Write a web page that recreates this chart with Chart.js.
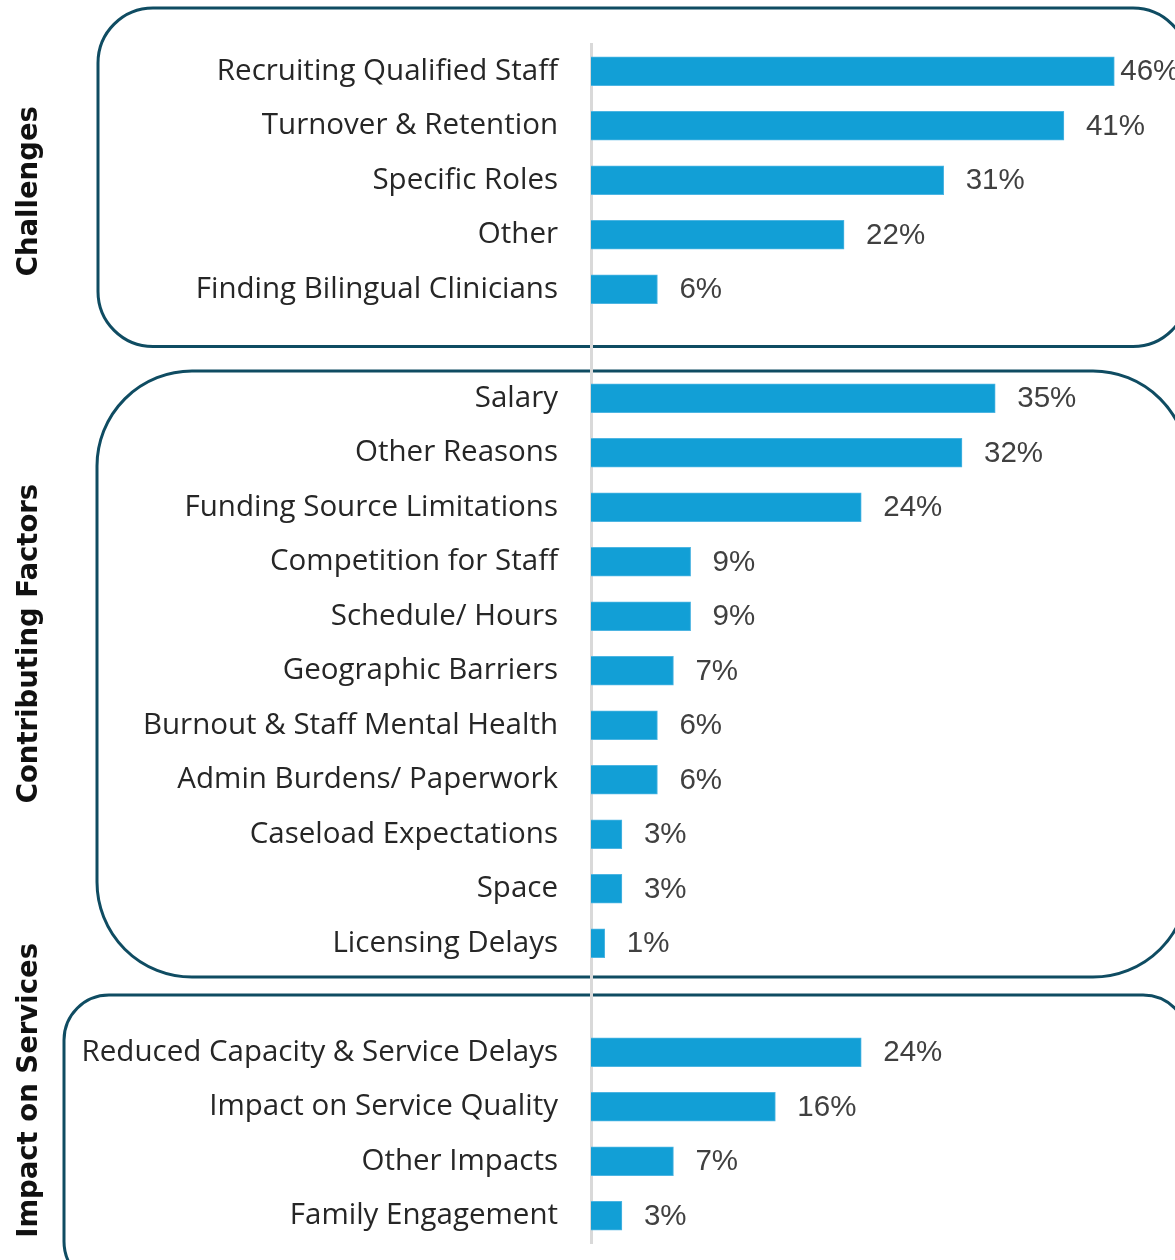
<!DOCTYPE html>
<html>
<head>
<meta charset="utf-8">
<script src="https://cdn.jsdelivr.net/npm/chart.js@4.4.1/dist/chart.umd.min.js"></script>
<style>
  html, body { margin: 0; padding: 0; background: #fff; }
  #wrap { width: 1175px; height: 1260px; position: relative; }
</style>
</head>
<body>
<div id="wrap"><canvas id="staff-chart"></canvas></div>
<script>
// === Data ===
// blank strings are the spacer rows between the three groups
const categories = [
  'Recruiting Qualified Staff', 'Turnover & Retention', 'Specific Roles', 'Other', 'Finding Bilingual Clinicians',
  '',
  'Salary', 'Other Reasons', 'Funding Source Limitations', 'Competition for Staff', 'Schedule/ Hours',
  'Geographic Barriers', 'Burnout & Staff Mental Health', 'Admin Burdens/ Paperwork', 'Caseload Expectations',
  'Space', 'Licensing Delays',
  '',
  'Reduced Capacity & Service Delays', 'Impact on Service Quality', 'Other Impacts', 'Family Engagement'
];

const challengeValues = [45.7, 41.3, 30.8, 22.1, 5.8];
const factorValues = [35.3, 32.4, 23.6, 8.7, 8.7, 7.2, 5.8, 5.8, 2.7, 2.7, 1.2];
const impactValues = [23.6, 16.1, 7.2, 2.7];

const groupTitles = ['Challenges', 'Contributing Factors', 'Impact on Services'];

const values = [...challengeValues, null, ...factorValues, null, ...impactValues];

// === Rounded group boxes + rotated group titles ===
const groupPlugin = {
  id: 'groups',
  beforeDraw(chart) {
    const { ctx } = chart;
    const y = chart.scales.y;
    const rowH = y.getPixelForValue(1) - y.getPixelForValue(0);

    const boxes = [
      { x: 98, top: y.getPixelForValue(0) - rowH * 1.16, bottom: y.getPixelForValue(4) + rowH * 1.05, r: 55 },
      { x: 97, top: y.getPixelForValue(6) - rowH * 0.5, bottom: y.getPixelForValue(16) + rowH * 0.62, r: 95 },
      { x: 64, top: y.getPixelForValue(18) - rowH * 1.05, bottom: y.getPixelForValue(21) + rowH * 1.3, r: 45 }
    ];

    ctx.save();
    ctx.strokeStyle = '#0f4c62';
    ctx.lineWidth = 3;
    boxes.forEach(b => {
      ctx.beginPath();
      ctx.roundRect(b.x, b.top, 1188 - b.x, b.bottom - b.top, b.r);
      ctx.stroke();
    });

    // vertical group titles
    const titleAt = [2.2, 10.5, 18.7];
    ctx.fillStyle = '#111';
    ctx.font = 'bold 27.5px "DejaVu Sans"';
    ctx.textAlign = 'center';
    ctx.textBaseline = 'middle';
    groupTitles.forEach((t, i) => {
      ctx.save();
      ctx.translate(30, y.getPixelForValue(titleAt[i]));
      ctx.rotate(-Math.PI / 2);
      ctx.fillText(t, 0, 0);
      ctx.restore();
    });
    ctx.restore();
  }
};

// === Value labels at bar ends ===
const valueLabels = {
  id: 'valueLabels',
  afterDatasetsDraw(chart) {
    const { ctx } = chart;
    const meta = chart.getDatasetMeta(0);
    ctx.save();
    ctx.font = '29.5px "Liberation Sans"';
    ctx.fillStyle = '#404040';
    ctx.textBaseline = 'middle';
    ctx.textAlign = 'left';
    meta.data.forEach((bar, i) => {
      const v = values[i];
      if (v == null) return;
      const txt = Math.round(v) + '%';
      const w = ctx.measureText(txt).width;
      let x = bar.x + 22;
      if (x + w > chart.width) x = bar.x + 6; // squeeze like the original
      ctx.fillText(txt, x, bar.y + 1);
    });
    ctx.restore();
  }
};

const ctx = document.getElementById('staff-chart');
new Chart(ctx, {
  type: 'bar',
  data: {
    labels: categories,
    datasets: [{
      data: values,
      backgroundColor: '#129fd6',
      borderColor: '#4db5e2',
      borderWidth: 1,
      barThickness: 29
    }]
  },
  options: {
    indexAxis: 'y',
    responsive: true,
    maintainAspectRatio: false,
    animation: false,
    layout: { padding: { top: 44, bottom: 17, left: 0, right: 0 } },
    scales: {
      x: { display: false, min: 0, max: 51 },
      y: {
        afterFit(scale) {
          scale.width = 591;
          // no extra room for half-label heights
          scale.paddingTop = 0;
          scale.paddingBottom = 0;
        },
        grid: { drawOnChartArea: false, drawTicks: false },
        border: { display: true, color: '#d9d9d9', width: 3 },
        ticks: {
          color: '#262626',
          padding: 33,
          autoSkip: false,
          font: { family: '"Open Sans"', size: 29.5 }
        }
      }
    },
    plugins: {
      legend: { display: false },
      tooltip: { enabled: false }
    }
  },
  plugins: [groupPlugin, valueLabels]
});
</script>
</body>
</html>
